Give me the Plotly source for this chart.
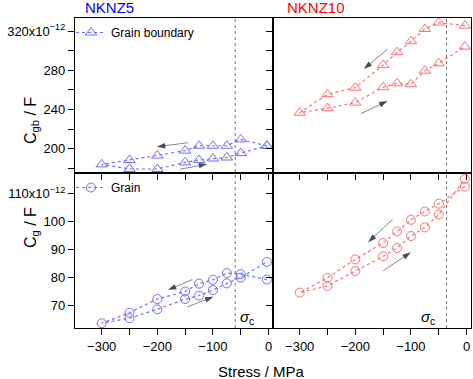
import plotly.graph_objects as go
from plotly.subplots import make_subplots

# stress path: start near 0, go down to -300 MPa, come back
stress = [-3, -50, -75, -100, -125, -150, -200, -250, -300,
          -250, -200, -150, -125, -100, -75, -50, -3]

cgb_nknz5 = [203, 209.5, 203, 203, 203, 198, 193, 188.5, 184,
             179.3, 179.3, 186, 188.5, 190, 191, 195.5, 203]
cgb_nknz10 = [325.5, 328.6, 322.1, 309.6, 298.4, 285.4, 262.3, 255.5, 236.7,
              241.2, 247, 262.7, 266.7, 265.7, 279.6, 287.1, 304.1]
cg_nknz5 = [79.3, 81.2, 81.6, 79.2, 77.8, 75.0, 72.3, 67.4, 63.6,
            65.4, 68.6, 72.3, 73.5, 75.5, 77.9, 80.0, 85.6]
cg_nknz10 = [112.6, 106.5, 103.7, 100.7, 96.5, 92.4, 86.5, 79.9, 74.6,
             77.0, 82.3, 87.6, 90.6, 94.9, 98.0, 102.6, 115.4]

sigma_c = [-60, -36]  # NKNZ5, NKNZ10

# arrows: (row, col, tail_x, tail_y, head_x, head_y)
arrows = [
    (1, 1, -145, 206.1, -201, 202.0),
    (1, 1, -159, 179.0, -110, 184.4),
    (1, 2, -142, 301.4, -185, 281.3),
    (1, 2, -190, 235.7, -142, 248.7),
    (2, 1, -137, 79.3, -181, 75.5),
    (2, 1, -146, 69.5, -99, 73.1),
    (2, 2, -133, 100.8, -177, 92.7),
    (2, 2, -150, 82.4, -100, 89.1),
]

x_major = [-300, -200, -100, 0]
x_text = ["\u2212300", "\u2212200", "\u2212100", "0"]
x_minor = [-250, -150, -50]
gb_major = [200, 240, 280, 320]
gb_text = ["200", "240", "280", "320x10<sup>\u221212</sup>"]
gb_minor = [180, 220, 260, 300]
g_major = [70, 80, 90, 100, 110]
g_text = ["70", "80", "90", "100", "110x10<sup>\u221212</sup>"]

blue = "#6e6eff"
red = "#ff6e6e"
font = "Liberation Sans, Arial, sans-serif"

fig = make_subplots(rows=2, cols=2, horizontal_spacing=0, vertical_spacing=0)

fig.add_trace(go.Scatter(x=stress, y=cgb_nknz5, mode="lines+markers", name="Grain boundary",
                         line=dict(color=blue, width=1.2, dash="dot"),
                         marker=dict(symbol="triangle-up-open", size=10, color=blue, line=dict(width=1)),
                         legend="legend"), row=1, col=1)
fig.add_trace(go.Scatter(x=stress, y=cgb_nknz10, mode="lines+markers", showlegend=False,
                         line=dict(color=red, width=1.2, dash="dot"),
                         marker=dict(symbol="triangle-up-open", size=10, color=red, line=dict(width=1))),
              row=1, col=2)
fig.add_trace(go.Scatter(x=stress, y=cg_nknz5, mode="lines+markers", name="Grain",
                         line=dict(color=blue, width=1.2, dash="dot"),
                         marker=dict(symbol="circle-open", size=9, color=blue, line=dict(width=1)),
                         legend="legend2"), row=2, col=1)
fig.add_trace(go.Scatter(x=stress, y=cg_nknz10, mode="lines+markers", showlegend=False,
                         line=dict(color=red, width=1.2, dash="dot"),
                         marker=dict(symbol="circle-open", size=9, color=red, line=dict(width=1))),
              row=2, col=2)

# arrows as tiny traces: grey shaft, black head pointing along the line
for r, c, tx, ty, hx, hy in arrows:
    fig.add_trace(go.Scatter(x=[tx, hx], y=[ty, hy], mode="lines+markers", showlegend=False,
                             hoverinfo="skip",
                             line=dict(color="#888888", width=1),
                             marker=dict(symbol="arrow", size=[0, 9], color="black",
                                         angleref="previous", line=dict(width=0))),
                  row=r, col=c)

axis_common = dict(showline=True, mirror=True, linecolor="black", linewidth=1.3,
                   ticks="outside", ticklen=6, tickwidth=1, tickcolor="black",
                   showgrid=False, zeroline=False,
                   tickfont=dict(family=font, size=13, color="black"))

for r in (1, 2):
    for c in (1, 2):
        fig.update_xaxes(range=[-348, 8], tickvals=x_major, ticktext=x_text,
                         minor=dict(tickvals=x_minor, ticks="outside", ticklen=6, tickcolor="black"),
                         showticklabels=(r == 2), row=r, col=c, **axis_common)
gb_minor_ax = dict(tickvals=gb_minor, ticks="outside", ticklen=6, tickcolor="black")
fig.update_yaxes(range=[175.2, 333.3], tickvals=gb_major, ticktext=gb_text, minor=gb_minor_ax,
                 row=1, col=1, **axis_common)
fig.update_yaxes(range=[175.2, 333.3], tickvals=gb_major, minor=gb_minor_ax, showticklabels=False,
                 row=1, col=2, **axis_common)
fig.update_yaxes(range=[61.9, 117.5], tickvals=g_major, ticktext=g_text, row=2, col=1, **axis_common)
fig.update_yaxes(range=[61.9, 117.5], tickvals=g_major, showticklabels=False, row=2, col=2, **axis_common)

# sigma_c dashed lines through both rows
for c, xs in zip((1, 2), sigma_c):
    xref = "x" if c == 1 else "x2"
    fig.add_shape(type="line", xref=xref, yref="paper", x0=xs, x1=xs, y0=0, y1=1,
                  line=dict(color="#777777", width=1, dash="dot"))

# sigma_c labels
fig.add_annotation(x=-38, y=65.8, xref="x3", yref="y3", text="<i>σ</i><sub>c</sub>",
                   showarrow=False, font=dict(family=font, size=15, color="black"))
fig.add_annotation(x=-70, y=65.8, xref="x4", yref="y4", text="<i>σ</i><sub>c</sub>",
                   showarrow=False, font=dict(family=font, size=15, color="black"))

# panel titles
fig.add_annotation(x=0.02, y=1, xref="paper", yref="paper", yanchor="bottom", xanchor="left",
                   text="NKNZ5", showarrow=False,
                   font=dict(family=font, size=15, color="#0000ff"))
fig.add_annotation(x=0.53, y=1, xref="paper", yref="paper", yanchor="bottom", xanchor="left",
                   text="NKNZ10", showarrow=False,
                   font=dict(family=font, size=15, color="#ff0000"))

# y axis titles
fig.add_annotation(x=-0.14, y=0.75, xref="paper", yref="paper", textangle=-90,
                   text="C<sub>gb</sub> / F", showarrow=False,
                   font=dict(family=font, size=16, color="black"))
fig.add_annotation(x=-0.14, y=0.25, xref="paper", yref="paper", textangle=-90,
                   text="C<sub>g</sub> / F", showarrow=False,
                   font=dict(family=font, size=16, color="black"))

fig.add_annotation(x=0.47, y=0, xref="paper", yref="paper", yanchor="top", yshift=-33,
                   text="Stress / MPa", showarrow=False,
                   font=dict(family=font, size=15, color="black"))

fig.update_layout(
    width=473, height=379,
    margin=dict(l=75, r=2, t=18, b=51),
    plot_bgcolor="white", paper_bgcolor="white",
    font=dict(family=font, size=13, color="black"),
    legend=dict(x=-0.01, y=1, xanchor="left", yanchor="top", bgcolor="rgba(0,0,0,0)",
                itemwidth=30, font=dict(family=font, size=12)),
    legend2=dict(x=-0.01, y=0.5, xanchor="left", yanchor="top", bgcolor="rgba(0,0,0,0)",
                 itemwidth=30, font=dict(family=font, size=12)),
)

fig.write_html("out.html", config={"displayModeBar": False},
               post_script="document.body.style.margin='0';")
